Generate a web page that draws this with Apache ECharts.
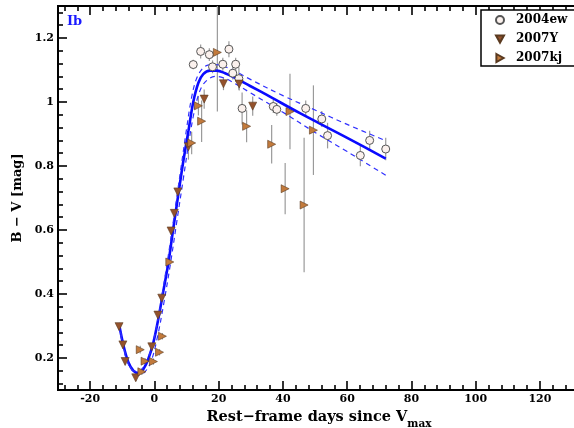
<!DOCTYPE html>
<html>
<head>
<meta charset="utf-8">
<script src="https://cdn.jsdelivr.net/npm/echarts@6/dist/echarts.min.js"></script>
<style>
html,body{margin:0;padding:0;background:#fff;overflow:hidden;}
#chart{width:574px;height:428px;}
</style>
</head>
<body>
<div id="chart"></div>
<script>
// ---- data (x = rest-frame days, y = B-V, err) ----
var sn2004ew = [
  [12.1, 1.117, 0.015], [14.4, 1.158, 0.022], [17.1, 1.148, 0.02], [18.1, 1.110, 0.02],
  [21.3, 1.118, 0.02], [23.2, 1.165, 0.025], [24.4, 1.090, 0.02], [25.3, 1.118, 0.02],
  [26.3, 1.073, 0.035], [27.3, 0.980, 0.05], [37.0, 0.986, 0.02], [38.1, 0.977, 0.02],
  [47.1, 0.980, 0.025], [52.1, 0.947, 0.025], [53.9, 0.895, 0.04], [64.1, 0.833, 0.034],
  [67.0, 0.880, 0.03], [72.0, 0.853, 0.035]
];
var sn2007Y = [
  [-11.0, 0.298, 0.01], [-9.8, 0.241, 0.01], [-9.1, 0.189, 0.01], [-5.8, 0.138, 0.01],
  [-0.8, 0.235, 0.01], [1.1, 0.334, 0.01], [2.3, 0.387, 0.01], [5.2, 0.597, 0.01],
  [6.2, 0.652, 0.01], [7.3, 0.719, 0.01], [10.6, 0.860, 0.04], [15.5, 1.009, 0.03],
  [21.5, 1.057, 0.02], [26.4, 1.056, 0.02], [30.6, 0.987, 0.03]
];
var sn2007kj = [
  [-4.4, 0.226, 0.012], [-3.9, 0.157, 0.01], [-2.9, 0.190, 0.01], [-0.3, 0.189, 0.01],
  [1.6, 0.218, 0.01], [2.5, 0.268, 0.01], [4.8, 0.500, 0.01], [11.6, 0.872, 0.035],
  [13.7, 0.988, 0.03], [14.7, 0.940, 0.065], [19.6, 1.155, 0.185], [28.7, 0.924, 0.05],
  [36.5, 0.868, 0.06], [40.7, 0.729, 0.08], [42.2, 0.970, 0.118], [46.6, 0.678, 0.21],
  [49.5, 0.912, 0.14]
];
// fitted template curve and its uncertainty band
var fitCurve = [
  [-11, 0.306], [-9.6, 0.238], [-8.1, 0.187], [-6.5, 0.160], [-5.0, 0.153], [-3.4, 0.166],
  [-1.9, 0.197], [-0.3, 0.249], [1.2, 0.321], [2.8, 0.410], [4.4, 0.500], [5.6, 0.585],
  [6.7, 0.660], [7.8, 0.735], [9.0, 0.815], [10.6, 0.910], [12.1, 1.000], [13.7, 1.060],
  [15.2, 1.087], [17.3, 1.098], [19.4, 1.098], [22.0, 1.090], [24.6, 1.078], [29.8, 1.050],
  [35.0, 1.022], [45.3, 0.965], [60.0, 0.888], [72.0, 0.823]
];
var fitUpper = [
  [-11, 0.300], [-9, 0.205], [-7, 0.163], [-5, 0.158], [-3, 0.180], [-1, 0.228], [1, 0.315],
  [3, 0.435], [5, 0.565], [7, 0.705], [8.5, 0.810], [10, 0.915], [11.5, 1.010], [13, 1.070],
  [15, 1.105], [17, 1.116], [19, 1.117], [22, 1.110], [25, 1.097], [30, 1.070], [40, 1.020],
  [50, 0.975], [60, 0.930], [72, 0.879]
];
var fitLower = [
  [-11, 0.310], [-9, 0.212], [-7, 0.163], [-5, 0.147], [-3, 0.156], [-1, 0.190], [1, 0.268],
  [3, 0.375], [5, 0.495], [7, 0.628], [9, 0.760], [10.5, 0.860], [12, 0.950], [13.5, 1.015],
  [15, 1.052], [17, 1.073], [19, 1.080], [22, 1.074], [25, 1.058], [30, 1.028], [40, 0.968],
  [50, 0.905], [60, 0.845], [72, 0.771]
];
var xTicks = [-20, 0, 20, 40, 60, 80, 100, 120];
var yTicks = [0.2, 0.4, 0.6, 0.8, 1.0, 1.2];
var xRange = [-30, 130.6];
var yRange = [0.1, 1.3];

function minorTicks(lo, hi, step, major) {
  var out = [];
  for (var v = Math.ceil(lo / step) * step; v <= hi + 1e-9; v += step) {
    var r = Math.round(v * 1000) / 1000;
    var isMajor = major.some(function (m) { return Math.abs(m - r) < 1e-6; });
    if (!isMajor && r > lo && r < hi) out.push(r);
  }
  return out;
}
var xMinor = minorTicks(xRange[0], xRange[1], 4, xTicks);
var yMinor = minorTicks(yRange[0], yRange[1], 0.04, yTicks);

var FONT = 'DejaVu Serif';
var chart = echarts.init(document.getElementById('chart'), null, {renderer: 'canvas'});

function xAx(pos, ticks, len, labels) {
  return {
    type: 'value', position: pos, min: xRange[0], max: xRange[1],
    axisLine: {show: true, onZero: false, lineStyle: {color: '#000', width: 2}},
    axisTick: {show: true, inside: true, length: len, customValues: ticks, lineStyle: {color: '#000', width: 1.6}},
    axisLabel: labels ? {show: true, customValues: ticks, color: '#000', fontFamily: FONT, fontWeight: 'bold', fontSize: 11, margin: 4} : {show: false},
    splitLine: {show: false}
  };
}
function yAx(pos, ticks, len, labels) {
  return {
    type: 'value', position: pos, min: yRange[0], max: yRange[1],
    axisLine: {show: true, onZero: false, lineStyle: {color: '#000', width: 2}},
    axisTick: {show: true, inside: true, length: len, customValues: ticks, lineStyle: {color: '#000', width: 1.6}},
    axisLabel: labels ? {show: true, customValues: ticks, color: '#000', fontFamily: FONT, fontWeight: 'bold', fontSize: 11, margin: 4} : {show: false},
    splitLine: {show: false}
  };
}

var xAxes = [xAx('bottom', xTicks, 9, true), xAx('bottom', xMinor, 5, false), xAx('top', xTicks, 9, false), xAx('top', xMinor, 5, false)];
xAxes[0].name = 'Rest\u2212frame days since V{sub|max}';
xAxes[0].nameLocation = 'middle';
xAxes[0].nameGap = 12;
xAxes[0].nameTextStyle = {color: '#000', fontFamily: FONT, fontWeight: 'bold', fontSize: 14.5,
  padding: [0, 0, 0, 6],
  rich: {sub: {fontFamily: FONT, fontWeight: 'bold', fontSize: 10.5, verticalAlign: 'bottom', padding: [13, 0, 0, 0], color: '#000'}}};
var yAxes = [yAx('left', yTicks, 9, true), yAx('left', yMinor, 5, false)];
yAxes[0].name = 'B \u2212 V [mag]';
yAxes[0].nameLocation = 'middle';
yAxes[0].nameGap = 18;
yAxes[0].nameTextStyle = {color: '#000', fontFamily: FONT, fontWeight: 'bold', fontSize: 13};

function errBars(name, data) {
  return {
    type: 'custom', name: name + ' err', xAxisIndex: 0, yAxisIndex: 0, z: 2, silent: true,
    data: data,
    renderItem: function (params, api) {
      var x = api.value(0), y = api.value(1), e = api.value(2);
      var top = Math.min(y + e, yRange[1]), bot = Math.max(y - e, yRange[0]);
      var p1 = api.coord([x, top]), p2 = api.coord([x, bot]);
      return {type: 'line', shape: {x1: p1[0], y1: p1[1], x2: p2[0], y2: p2[1]},
        style: {stroke: '#9a9a9a', lineWidth: 1.2}};
    }
  };
}

var option = {
  animation: false,
  backgroundColor: '#fff',
  grid: {left: 58, right: 0, top: 6, bottom: 38, containLabel: false, outerBoundsMode: 'none'},
  xAxis: xAxes,
  yAxis: yAxes,
  legend: {
    data: [
      {name: '2004ew', icon: 'circle'},
      {name: '2007Y', icon: 'path://M0,0L10,0L5,9Z'},
      {name: '2007kj', icon: 'path://M0,0L9,5L0,10Z'}
    ],
    orient: 'vertical', left: 481, top: 10,
    itemWidth: 8, itemHeight: 8, itemGap: 5,
    padding: [3, 40, 1, 14],
    borderColor: '#000', borderWidth: 1.5, backgroundColor: '#fff',
    textStyle: {color: '#000', fontFamily: FONT, fontWeight: 'bold', fontSize: 12, lineHeight: 14, padding: [0, 0, 0, 7]}
  },
  graphic: [{type: 'text', left: 67, top: 15, style: {text: 'Ib', fill: '#1a1aff', font: 'bold 13px "DejaVu Serif"'}}],
  series: [
    errBars('2004ew', sn2004ew), errBars('2007Y', sn2007Y), errBars('2007kj', sn2007kj),
    {type: 'line', name: 'fit', data: fitCurve, smooth: 0.35, showSymbol: false, z: 4, silent: true,
      lineStyle: {color: '#0a0aff', width: 2.6}},
    {type: 'line', name: 'fit+', data: fitUpper, smooth: 0.35, showSymbol: false, z: 4, silent: true,
      lineStyle: {color: '#3030ff', width: 1.2, type: [5, 4]}},
    {type: 'line', name: 'fit-', data: fitLower, smooth: 0.35, showSymbol: false, z: 4, silent: true,
      lineStyle: {color: '#3030ff', width: 1.2, type: [5, 4]}},
    {type: 'scatter', name: '2004ew', data: sn2004ew, symbol: 'circle', symbolSize: 8, z: 5,
      itemStyle: {color: '#fbf1ed', borderColor: '#555', borderWidth: 1, opacity: 1}},
    {type: 'scatter', name: '2007Y', data: sn2007Y, symbol: 'triangle', symbolRotate: 180, symbolSize: 8, z: 5,
      itemStyle: {color: '#94522c', borderColor: '#5a3a20', borderWidth: 0.6, opacity: 1}},
    {type: 'scatter', name: '2007kj', data: sn2007kj, symbol: 'triangle', symbolRotate: -90, symbolSize: 8, z: 5,
      itemStyle: {color: '#c27a3c', borderColor: '#5a3a20', borderWidth: 0.6, opacity: 1}}
  ]
};
chart.setOption(option);
</script>
</body>
</html>
